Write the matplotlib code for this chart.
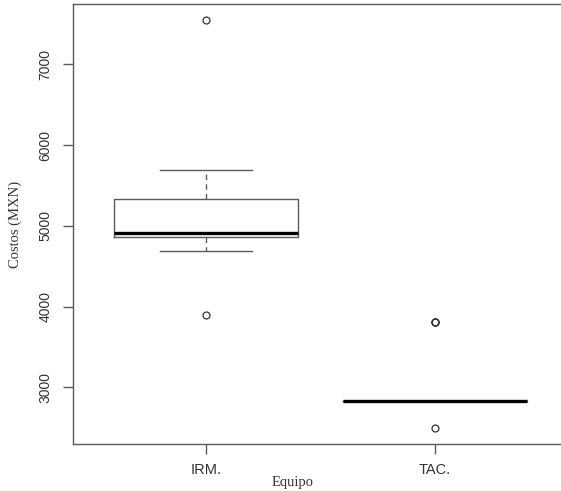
"""Boxplot of costs (MXN) per imaging equipment, R base-graphics look."""

import matplotlib

matplotlib.use("Agg")

import matplotlib.pyplot as plt

# Summary statistics
equipos = ["IRM.", "TAC."]
q1 = [4860, 2830]
medianas = [4915, 2830]
q3 = [5335, 2830]
bigote_inf = [4690, 2830]
bigote_sup = [5695, 2830]
atipicos = [[7545, 3895], [3810, 3810, 3810, 2500]]
ticks_y = [3000, 4000, 5000, 6000, 7000]

GRIS = "#5a5a5a"

fig = plt.figure(figsize=(5.61, 4.91), dpi=100)
ax = fig.add_axes([73 / 561, 47 / 491, 495 / 561, 440 / 491])

stats = [
    dict(label=lab, q1=a, med=m, q3=b, whislo=lo, whishi=hi, fliers=fl)
    for lab, a, m, b, lo, hi, fl in zip(equipos, q1, medianas, q3, bigote_inf, bigote_sup, atipicos)
]
ax.bxp(
    stats,
    positions=[1, 2],
    widths=0.8,
    boxprops=dict(color=GRIS, linewidth=1.0),
    medianprops=dict(color="black", linewidth=2.4, solid_capstyle="butt"),
    whiskerprops=dict(color=GRIS, linewidth=1.0, linestyle=(0, (4, 3))),
    capprops=dict(color=GRIS, linewidth=1.0),
    capwidths=0.4,
    flierprops=dict(marker="o", markersize=5, markerfacecolor="none",
                    markeredgecolor="#333333", markeredgewidth=0.9),
)

ax.set_xlim(0.42, 2.58)
ax.set_ylim(2298, 7747)
ax.set_yticks(ticks_y)
ax.set_yticklabels([str(t) for t in ticks_y], rotation=90, va="center",
                   family="Liberation Sans", fontsize=10, color="#333333")
ax.set_xticks([1, 2])
ax.set_xticklabels(equipos, family="Liberation Sans", fontsize=10.5, color="#333333")
ax.tick_params(axis="both", length=7, width=1.0, color=GRIS)
ax.tick_params(axis="x", pad=7)
ax.tick_params(axis="y", pad=8)

for side in ("left", "bottom", "top", "right"):
    ax.spines[side].set_color(GRIS)
    ax.spines[side].set_linewidth(1.0)

ax.set_ylabel("Costos (MXN)", family="Liberation Serif", fontsize=10.5, color="#333333")
ax.yaxis.set_label_coords(-0.103, 0.5)
ax.set_xlabel("Equipo", family="Liberation Serif", fontsize=10.5, color="#333333")
ax.xaxis.set_label_coords(0.444, -0.073)

fig.savefig("out.png", dpi=100)
